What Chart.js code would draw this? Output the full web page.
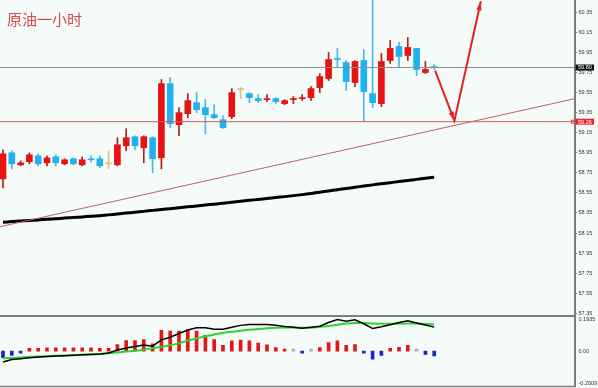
<!DOCTYPE html>
<html>
<head>
<meta charset="utf-8">
<script src="https://cdn.jsdelivr.net/npm/chart.js@4.4.0/dist/chart.umd.min.js"></script>
<style>
  body { margin: 0; background: #f4fbf8; }
  #wrap { position: relative; width: 598px; height: 388px; overflow: hidden; }
  #priceChart { position: absolute; left: 0; top: 0; }
  #macdChart { position: absolute; left: 0; top: 315px; }
</style>
</head>
<body>
<div id="wrap">
  <canvas id="priceChart" width="598" height="316"></canvas>
  <canvas id="macdChart" width="598" height="73"></canvas>
</div>
<script>
// hourly candles, oldest first
var opens = [58.69, 58.95, 58.83, 58.86, 58.92, 58.85, 58.91, 58.84, 58.89, 58.83,
  58.89, 58.89, 58.84, 58.83, 59.02, 59.11, 59.00, 59.10, 58.90, 59.64,
  59.23, 59.34, 59.45, 59.40, 59.33, 59.28, 59.31, 59.58, 59.54, 59.49,
  59.48, 59.49, 59.44, 59.48, 59.49, 59.50, 59.60, 59.69, 59.89, 59.85,
  59.65, 59.87, 59.54, 59.44, 59.87, 60.01, 59.92, 59.99, 59.75, 59.81];
var highs = [58.98, 58.97, 58.87, 58.95, 58.94, 58.92, 58.93, 58.89, 58.90, 58.91,
  58.92, 58.92, 58.97, 59.10, 59.19, 59.12, 59.12, 59.11, 59.68, 59.70,
  59.40, 59.54, 59.55, 59.48, 59.43, 59.32, 59.59, 59.60, 59.55, 59.53,
  59.53, 59.50, 59.48, 59.51, 59.53, 59.61, 59.74, 59.95, 59.99, 59.87,
  59.87, 59.98, 60.47, 59.94, 60.07, 60.05, 60.10, 59.99, 59.86, 59.83];
var lows = [58.60, 58.79, 58.82, 58.84, 58.82, 58.82, 58.82, 58.83, 58.83, 58.82,
  58.86, 58.80, 58.79, 58.82, 58.97, 58.98, 58.85, 58.75, 58.79, 59.20,
  59.12, 59.30, 59.35, 59.14, 59.29, 59.19, 59.29, 59.49, 59.45, 59.45,
  59.46, 59.44, 59.43, 59.44, 59.47, 59.47, 59.55, 59.67, 59.80, 59.57,
  59.61, 59.27, 59.40, 59.41, 59.84, 59.80, 59.87, 59.72, 59.74, 59.78];
var closes = [58.94, 58.84, 58.85, 58.93, 58.84, 58.90, 58.85, 58.88, 58.84, 58.88,
  58.88, 58.82, 58.84, 59.03, 59.10, 59.02, 59.11, 58.89, 59.64, 59.24,
  59.35, 59.47, 59.38, 59.33, 59.30, 59.20, 59.55, 59.58, 59.50, 59.47,
  59.49, 59.46, 59.47, 59.49, 59.50, 59.59, 59.71, 59.88, 59.88, 59.66,
  59.86, 59.56, 59.45, 59.86, 59.99, 59.91, 60.00, 59.78, 59.78, 59.80];

// slow moving average (thick black line)
var ma = [58.258, 58.264, 58.270, 58.276, 58.281, 58.287, 58.293, 58.299, 58.305, 58.311,
  58.317, 58.323, 58.331, 58.340, 58.349, 58.357, 58.366, 58.376, 58.384, 58.393,
  58.402, 58.411, 58.420, 58.429, 58.438, 58.448, 58.457, 58.466, 58.476, 58.485,
  58.495, 58.504, 58.513, 58.523, 58.533, 58.545, 58.557, 58.570, 58.582, 58.594,
  58.606, 58.619, 58.630, 58.641, 58.652, 58.663, 58.674, 58.685, 58.696, 58.707];

// MACD panel
var macdHist = [-0.038, -0.024, -0.010, 0.015, 0.015, 0.018, 0.018, 0.018, 0.018, 0.018,
  0.018, 0.016, 0.015, 0.037, 0.060, 0.060, 0.065, 0.041, 0.118, 0.113,
  0.113, 0.122, 0.113, 0.090, 0.065, 0.033, 0.058, 0.063, 0.058, 0.045,
  0.036, 0.020, 0.010, 0.003, -0.008, 0.003, 0.020, 0.048, 0.058, 0.033,
  0.037, -0.006, -0.046, -0.025, 0.015, 0.021, 0.033, 0.003, -0.019, -0.028];
var macdLine = [-0.062, -0.048, -0.043, -0.038, -0.034, -0.031, -0.028, -0.026, -0.024, -0.021,
  -0.019, -0.016, -0.011, 0.006, 0.018, 0.026, 0.035, 0.028, 0.064, 0.079,
  0.100, 0.120, 0.132, 0.133, 0.124, 0.124, 0.135, 0.146, 0.151, 0.151,
  0.151, 0.146, 0.140, 0.136, 0.130, 0.135, 0.141, 0.162, 0.179, 0.170,
  0.178, 0.155, 0.128, 0.138, 0.150, 0.162, 0.172, 0.160, 0.148, 0.136];
var signalLine = [-0.040, -0.039, -0.037, -0.034, -0.031, -0.029, -0.027, -0.025, -0.023, -0.021,
  -0.018, -0.016, -0.012, -0.008, -0.003, 0.002, 0.008, 0.016, 0.024, 0.033,
  0.044, 0.060, 0.072, 0.084, 0.094, 0.104, 0.110, 0.116, 0.121, 0.126,
  0.129, 0.132, 0.134, 0.134, 0.132, 0.133, 0.138, 0.143, 0.150, 0.156,
  0.160, 0.159, 0.156, 0.155, 0.155, 0.155, 0.157, 0.156, 0.154, 0.151];

// axis ticks
var priceTicks = [60.35, 60.15, 59.95, 59.75, 59.55, 59.35, 59.15, 58.95, 58.75,
  58.55, 58.35, 58.15, 57.95, 57.75, 57.55, 57.35];
var macdTicks = [0.1935, 0, -0.2009];
var macdTickLabels = ["0.1935", "0.00", "-0.2009"];

// drawn objects (bar index, price)
var bidPrice = 59.80;
var supportPrice = 59.26;
var trendX = [-0.34, 65];
var trendY = [58.213, 59.49];
var arrowX = [49.1, 51.3, 54.3];
var arrowY = [59.77, 59.27, 60.46];

var xMin = -0.34, xMax = 65;
var RED = "#e81212", BLUE = "#1fb2ee", DOJI = "#d9c27a";

function candleColor(i, wick) {
  if (Math.abs(closes[i] - opens[i]) < 0.005) return DOJI;
  if (closes[i] > opens[i]) return wick ? "#b51c1c" : RED;
  return wick ? "#4cb6e4" : BLUE;
}

var idx = opens.map(function(_, i) { return i; });
var bodyData = idx.map(function(i) { return {x: i, y: [opens[i], closes[i]]}; });
var wickData = idx.map(function(i) { return {x: i, y: [lows[i], highs[i]]}; });
var maData = idx.map(function(i) { return {x: i, y: ma[i]}; });

function flatLine(v) { return [{x: xMin, y: v}, {x: xMax, y: v}]; }

var labelFont = {size: 5.5, family: "Liberation Sans"};

var arrowHeads = {
  id: "arrowHeads",
  afterDatasetsDraw: function(chart) {
    var pts = chart.getDatasetMeta(0).data;
    var ctx = chart.ctx;
    ctx.save();
    ctx.fillStyle = "#e02424";
    [[0, 1], [1, 2]].forEach(function(p) {
      var a = pts[p[0]], b = pts[p[1]];
      var ang = Math.atan2(b.y - a.y, b.x - a.x);
      ctx.beginPath();
      ctx.moveTo(b.x, b.y);
      ctx.lineTo(b.x - 9 * Math.cos(ang) + 2.6 * Math.sin(ang), b.y - 9 * Math.sin(ang) - 2.6 * Math.cos(ang));
      ctx.lineTo(b.x - 9 * Math.cos(ang) - 2.6 * Math.sin(ang), b.y - 9 * Math.sin(ang) + 2.6 * Math.cos(ang));
      ctx.closePath();
      ctx.fill();
    });
    ctx.restore();
  }
};

var priceDecor = {
  id: "priceDecor",
  afterDraw: function(chart) {
    var ctx = chart.ctx, ys = chart.scales.y, right = chart.chartArea.right;
    ctx.save();
    ctx.font = '15px "Noto Sans CJK SC"';
    ctx.fillStyle = "#d64848";
    ctx.textBaseline = "middle";
    ctx.fillText("原油一小时", 7, 19);

    function box(v, bg) {
      var y = ys.getPixelForValue(v);
      ctx.fillStyle = bg;
      ctx.fillRect(right + 0.5, y - 3, 18.5, 6);
      ctx.fillStyle = "#fff";
      ctx.font = "5.5px Liberation Sans";
      ctx.fillText(v.toFixed(2), right + 3, y + 0.3);
      return y;
    }
    box(bidPrice, "#111");
    var sy = box(supportPrice, "#e02a2a");
    ctx.strokeStyle = "#d04040";
    ctx.lineWidth = 1;
    ctx.strokeRect(right - 3.5, sy - 1.5, 3, 3);
    ctx.restore();
  }
};

var priceChart = new Chart("priceChart", {
  type: "bar",
  data: {
    datasets: [
      {type: "line", data: idx.slice(0, 3).map(function(k) { return {x: arrowX[k], y: arrowY[k]}; }),
        borderColor: "#e02424", borderWidth: 2, pointRadius: 0, tension: 0},
      {type: "line", data: flatLine(bidPrice), borderColor: "#8e8e8e", borderWidth: 1, pointRadius: 0},
      {type: "line", data: flatLine(supportPrice), borderColor: "#d65a5a", borderWidth: 1, pointRadius: 0},
      {type: "line", data: [{x: trendX[0], y: trendY[0]}, {x: trendX[1], y: trendY[1]}],
        borderColor: "#c0605c", borderWidth: 1, pointRadius: 0},
      {type: "line", data: maData, borderColor: "#000", borderWidth: 3, pointRadius: 0, tension: 0.2},
      {data: bodyData, backgroundColor: idx.map(function(i) { return candleColor(i, false); }),
        barThickness: 6, minBarLength: 1, grouped: false, borderWidth: 0},
      {data: wickData, backgroundColor: idx.map(function(i) { return candleColor(i, true); }),
        barThickness: 1, grouped: false, borderWidth: 0}
    ]
  },
  options: {
    responsive: false,
    animation: false,
    layout: {padding: 0},
    plugins: {legend: {display: false}, tooltip: {enabled: false}},
    scales: {
      x: {type: "linear", display: false, min: xMin, max: xMax, offset: false},
      y: {
        position: "right",
        min: 57.323,
        max: 60.473,
        afterBuildTicks: function(s) { s.ticks = priceTicks.map(function(v) { return {value: v}; }); },
        afterFit: function(s) { s.width = 23; s.paddingTop = 0; s.paddingBottom = 0; },
        grid: {drawOnChartArea: false, tickLength: 2, color: "#777"},
        border: {color: "#7d7d7d", width: 2},
        ticks: {font: labelFont, color: "#333", padding: 1.5, autoSkip: false,
          callback: function(v) { return v.toFixed(2); }}
      }
    }
  },
  plugins: [arrowHeads, priceDecor]
});

var macdDecor = {
  id: "macdDecor",
  afterDraw: function(chart) {
    var ctx = chart.ctx, a = chart.chartArea, ys = chart.scales.y;
    ctx.save();
    ctx.strokeStyle = "#7d7d7d";
    ctx.lineWidth = 2;
    ctx.beginPath();
    ctx.moveTo(0, a.top - 1);
    ctx.lineTo(a.right + 1, a.top - 1);
    ctx.stroke();
    ctx.lineWidth = 1.5;
    ctx.beginPath();
    ctx.moveTo(0, a.bottom);
    ctx.lineTo(a.right + 1, a.bottom);
    ctx.stroke();
    ctx.font = "5.5px Liberation Sans";
    ctx.fillStyle = "#333";
    ctx.textBaseline = "middle";
    var nudge = [2.3, 0.5, -3.5];
    macdTicks.forEach(function(v, k) {
      ctx.fillText(macdTickLabels[k], a.right + 3.5, ys.getPixelForValue(v) + nudge[k]);
    });
    ctx.restore();
  }
};

function histColor(v) {
  if (v > 0.005) return "#e01818";
  if (v < -0.005) return "#1428c8";
  return "#b0b0b0";
}

var macdChart = new Chart("macdChart", {
  type: "bar",
  data: {
    datasets: [
      {type: "line", data: idx.map(function(i) { return {x: i, y: macdLine[i]}; }),
        borderColor: "#000", borderWidth: 1.5, pointRadius: 0, tension: 0},
      {type: "line", data: idx.map(function(i) { return {x: i, y: signalLine[i]}; }),
        borderColor: "#2fd22f", borderWidth: 2, pointRadius: 0, tension: 0.2},
      {data: idx.map(function(i) { return {x: i, y: macdHist[i]}; }),
        backgroundColor: macdHist.map(histColor), barThickness: 3, minBarLength: 2,
        grouped: false, borderWidth: 0}
    ]
  },
  options: {
    responsive: false,
    animation: false,
    layout: {padding: {top: 2, bottom: 1.5, left: 0, right: 0}},
    plugins: {legend: {display: false}, tooltip: {enabled: false}},
    scales: {
      x: {type: "linear", display: false, min: xMin, max: xMax, offset: false},
      y: {
        position: "right",
        min: -0.2009,
        max: 0.1935,
        afterFit: function(s) { s.width = 23; s.paddingTop = 0; s.paddingBottom = 0; },
        grid: {display: false},
        border: {color: "#7d7d7d", width: 2},
        ticks: {display: false}
      }
    }
  },
  plugins: [macdDecor]
});
</script>
</body>
</html>
